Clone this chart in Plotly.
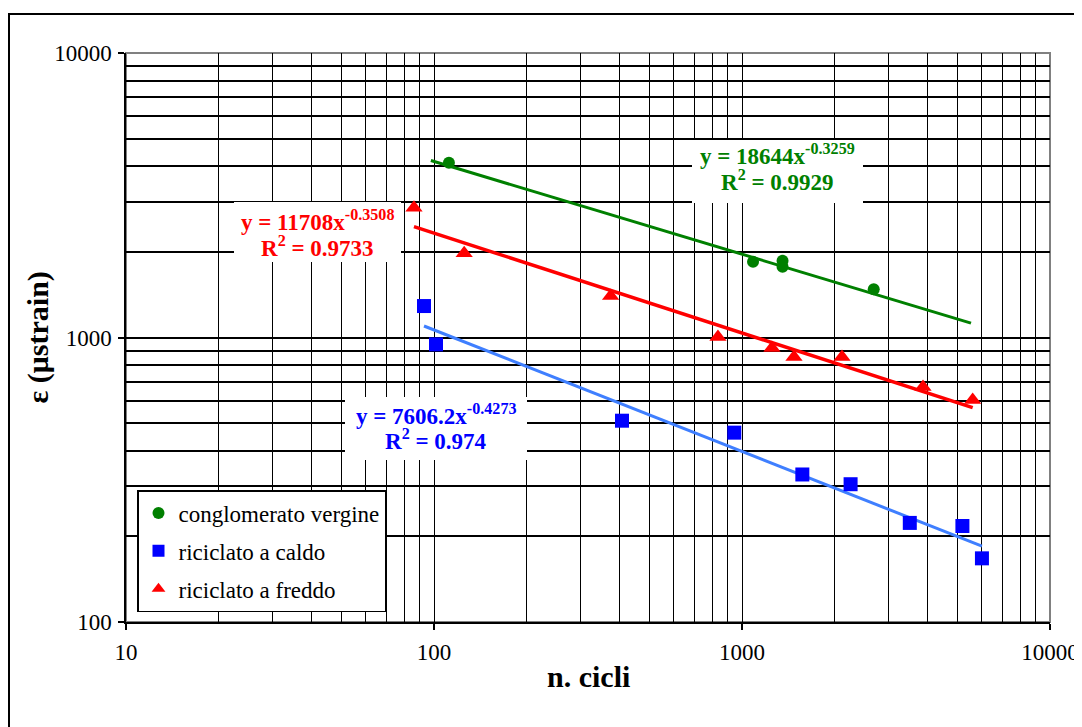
import numpy as np
import plotly.graph_objects as go

# ---- data ----
verg_x = [111.8, 1086, 1354, 1354, 2677]
verg_y = [4117, 1847, 1862, 1774, 1477]

caldo_x = [92.8, 101.5, 407.7, 944, 1570, 2252, 3506, 5195, 6012]
caldo_y = [1290, 946, 510, 463, 330, 305, 223, 217.5, 167.4]

freddo_x = [86.1, 125.3, 374.5, 835.5, 1251, 1475, 2112, 3870, 5610]
freddo_y = [2859, 1977, 1399, 1004, 919, 854, 854, 670, 603]

# power trendlines  y = a * x^b  (from the chart labels) and their drawn x-range
verg_fit = (18644, -0.3259, 0.9929)
caldo_fit = (7606.2, -0.4273, 0.974)
freddo_fit = (11708, -0.3508, 0.9733)
verg_range = [97.7, 5540]
caldo_range = [92.8, 6012]
freddo_range = [86.1, 5610]

x_ticks = [10, 100, 1000, 10000]
y_ticks = [100, 1000, 10000]

FONT = "Liberation Serif"
GREEN = "#008000"
BLUE = "#0000FF"
LBLUE = "#3F7FFF"
RED = "#FF0000"

# page layout (pixels on the 1082x727 page; body adds 8px offset)
PAGE_OFF = 8
PL, PR, PT, PB = 126, 1050, 53, 622


def px(x):
    return (x - PL) / (PR - PL)


def py(y):
    return (PB - y) / (PB - PT)


fig = go.Figure()


def trend(fit, rng):
    a, b, _ = fit
    xs = np.logspace(np.log10(rng[0]), np.log10(rng[1]), 60)
    return xs, a * xs ** b


for fit, rng, col, w in [(verg_fit, verg_range, GREEN, 3),
                         (freddo_fit, freddo_range, RED, 3.5),
                         (caldo_fit, caldo_range, LBLUE, 3)]:
    xs, ys = trend(fit, rng)
    fig.add_trace(go.Scatter(x=xs, y=ys, mode="lines", line=dict(color=col, width=w),
                             showlegend=False, hoverinfo="skip"))

fig.add_trace(go.Scatter(x=verg_x, y=verg_y, mode="markers", name="conglomerato vergine",
                         legendgroup="a",
                         marker=dict(symbol="circle", size=12, color=GREEN)))
fig.add_trace(go.Scatter(x=caldo_x, y=caldo_y, mode="markers", name="riciclato a caldo",
                         legendgroup="b",
                         marker=dict(symbol="square", size=14, color=BLUE)))
fig.add_trace(go.Scatter(x=freddo_x, y=freddo_y, mode="markers", name="riciclato a freddo",
                         legendgroup="c",
                         marker=dict(symbol="triangle-up", size=15, color=RED)))


def minor_vals(lo, hi):
    vals = []
    for e in range(lo, hi):
        for k in range(2, 10):
            vals.append(k * 10 ** e)
    return vals


fig.update_xaxes(type="log", range=[1, 4], tickvals=x_ticks, ticktext=[str(v) for v in x_ticks],
                 showgrid=True, gridcolor="black", gridwidth=1,
                 minor=dict(tickvals=minor_vals(1, 4), showgrid=True, gridcolor="black",
                            gridwidth=1, ticks=""),
                 ticks="outside", ticklen=6, tickcolor="black", tickwidth=1.5,
                 showline=True, linecolor="black", linewidth=2,
                 ticklabelstandoff=2, automargin=False, ticklabeloverflow="allow",
                 tickfont=dict(family=FONT, size=23, color="black"), zeroline=False)
fig.update_yaxes(type="log", range=[2, 4], tickvals=y_ticks, ticktext=[str(v) for v in y_ticks],
                 showgrid=True, gridcolor="black", gridwidth=1.6,
                 minor=dict(tickvals=minor_vals(2, 4), showgrid=True, gridcolor="black",
                            gridwidth=1.6, ticks=""),
                 ticks="outside", ticklen=6, tickcolor="black", tickwidth=1.5,
                 showline=True, linecolor="black", linewidth=1.5,
                 ticklabelstandoff=2, automargin=False, ticklabeloverflow="allow",
                 tickfont=dict(family=FONT, size=23, color="black"), zeroline=False)

annots = []
# axis titles
annots.append(dict(text="<b>n. cicli</b>", xref="paper", yref="paper", x=0.501, y=0,
                   xanchor="center", yanchor="middle", yshift=-54, showarrow=False,
                   font=dict(family=FONT, size=30, color="black")))
annots.append(dict(text="<b>ε (μstrain)</b>", xref="paper", yref="paper", x=0, y=0.5,
                   xanchor="center", yanchor="middle", xshift=-89, textangle=-90,
                   showarrow=False, font=dict(family=FONT, size=30, color="black")))

shapes = [
    # plot area border (grey top/right)
    dict(type="rect", xref="paper", yref="paper", x0=0, x1=1, y0=0, y1=1,
         line=dict(color="#808080", width=2), layer="below"),
    # outer chart frame
    dict(type="rect", xref="paper", yref="paper", x0=px(9), x1=px(1090), y0=py(740), y1=py(14),
         line=dict(color="black", width=2)),
]


def eq_label(fit, col, box, l1, l2):
    a, b, r2 = fit
    x0, x1, y0, y1 = box
    shapes.append(dict(type="rect", xref="paper", yref="paper", x0=px(x0), x1=px(x1),
                       y0=py(y1), y1=py(y0), fillcolor="white", line=dict(width=0),
                       layer="above"))
    cx = px((x0 + x1) / 2)
    annots.append(dict(text=f"<b>y = {a:g}x<sup>{b:g}</sup></b>", xref="paper", yref="paper",
                       x=cx, y=py(l1 - 3), xanchor="center", yanchor="middle",
                       showarrow=False, font=dict(family=FONT, size=23, color=col)))
    annots.append(dict(text=f"<b>R<sup>2</sup> = {r2:g}</b>", xref="paper", yref="paper",
                       x=cx, y=py(l2 - 3), xanchor="center", yanchor="middle",
                       showarrow=False, font=dict(family=FONT, size=23, color=col)))


eq_label(verg_fit, GREEN, (692, 863, 140, 203), 157, 183)
eq_label(freddo_fit, RED, (234, 401, 202, 262), 223, 249)
eq_label(caldo_fit, BLUE, (345, 527, 397, 460), 417, 442)

# the page body adds an 8px offset, so the figure is sized 8px smaller
fig.update_layout(
    width=1082 - PAGE_OFF, height=727 - PAGE_OFF,
    margin=dict(l=PL - PAGE_OFF, r=1082 - PR, t=PT - PAGE_OFF, b=727 - PB, autoexpand=False),
    paper_bgcolor="white", plot_bgcolor="white",
    font=dict(family=FONT, color="black"),
    annotations=annots, shapes=shapes,
    legend=dict(x=px(137), y=py(490), xanchor="left", yanchor="top",
                bgcolor="white", bordercolor="black", borderwidth=1.5,
                font=dict(family=FONT, size=23, color="black"),
                tracegroupgap=5, itemsizing="constant"),
    showlegend=True,
)

fig.write_html("out.html")
